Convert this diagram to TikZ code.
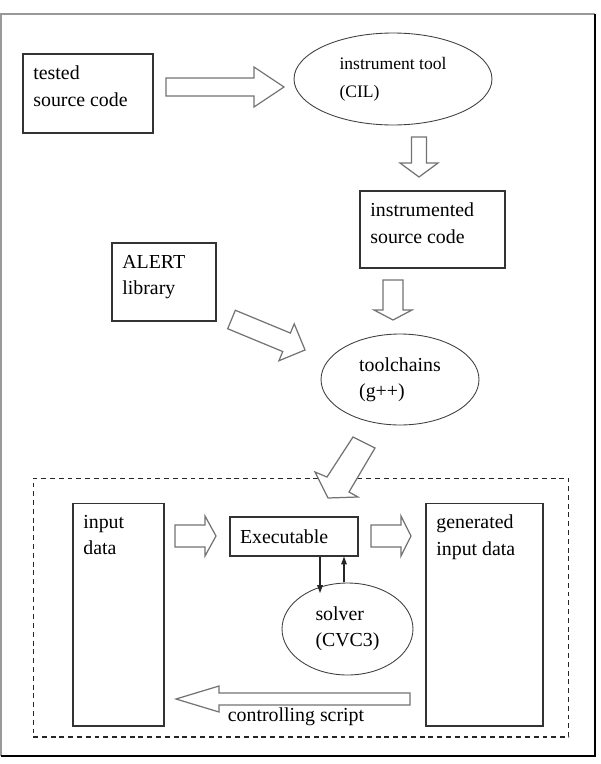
\documentclass[tikz,border=0pt]{standalone}
\usepackage{fontspec}
\setmainfont{Liberation Serif}
\usetikzlibrary{arrows.meta,shapes.geometric}

\tikzset{
  box/.style={draw=black!80, line width=0.6pt, inner sep=0pt},
  boxtext/.style={anchor=north west, align=left, inner xsep=6pt, inner ysep=7pt},
  blob/.style={draw=black!75, line width=0.5pt, ellipse, inner sep=0pt, align=left},
  fat/.style={draw=black!55, fill=white, line width=0.7pt, line join=miter},
  link/.style={-{Triangle[length=4.5pt,width=3.2pt]}, draw=black!85, line width=0.6pt},
}
% block arrow: tail, angle, length, half shaft, half head, head length
\newcommand{\fatarrow}[6]{%
  \draw[fat, shift={(#1)}, rotate=#2]
    (0,-#4) -- ({#3-#6},-#4) -- ({#3-#6},-#5) -- (#3,0)
    -- ({#3-#6},#5) -- ({#3-#6},#4) -- (0,#4) -- cycle;}

\begin{document}
\begin{tikzpicture}[x=0.02cm, y=-0.02cm, font=\fontsize{11.3}{15}\selectfont]
  \useasboundingbox (0,0) rectangle (600,764);
  % frame
  \draw[gray!80, line width=0.6pt] (1,756) -- (1,14) -- (595,14);
  \draw[black, line width=1.2pt] (595,14) -- (595,756) -- (1,756);

  % upper part
  \node[box, minimum width=2.6cm, minimum height=1.58cm] (tested) at (88,93.5) {};
  \node[boxtext] (testedtxt) at (tested.north west) {tested\\source code};
  \node[blob, minimum width=3.96cm, minimum height=1.84cm,
        font=\fontsize{10}{16}\selectfont] (instr) at (393,79) {instrument tool\\(CIL)};
  \node[box, minimum width=2.9cm, minimum height=1.54cm] (instrd) at (432.5,229.5) {};
  \node[boxtext] (instrdtxt) at (instrd.north west) {instrumented\\source code};
  \node[box, minimum width=2.08cm, minimum height=1.56cm] (alert) at (164,282) {};
  \node[boxtext] (alerttxt) at (alert.north west) {ALERT\\library};
  \node[blob, minimum width=3.16cm, minimum height=1.82cm] (tools) at (400,379.5) {toolchains\\(g++)};

  \fatarrow{166,87}{0}{118}{9}{20}{30}
  \fatarrow{419,137}{-90}{40}{7.5}{19}{14}
  \fatarrow{393,280}{-90}{40}{10}{19}{10}
  \fatarrow{231.5,319.5}{-22.5}{79.6}{10}{20}{20}

  % test loop
  \node[draw=black!85, dashed, dash pattern=on 2.8pt off 2.2pt, line width=0.6pt,
        minimum width=10.72cm, minimum height=5.18cm, inner sep=0pt] (loop) at (301,607.5) {};
  \draw[fat] (353,437) -- (327,477) -- (315,472) -- (328,498) -- (358,497)
    -- (349,492) -- (375,448) -- cycle;

  \node[box, minimum width=1.82cm, minimum height=4.46cm] (inp) at (118.5,614.5) {};
  \node[boxtext] (inptxt) at (inp.north west) {input\\data};
  \node[box, minimum width=2.34cm, minimum height=4.46cm] (gen) at (484.5,614.5) {};
  \node[boxtext] (gentxt) at (gen.north west) {generated\\input data};
  \node[box, minimum width=2.56cm, minimum height=0.78cm, text width=2.16cm,
        inner xsep=0.2cm, align=left] (exe) at (294,536.5) {Executable};
  \node[blob, minimum width=2.62cm, minimum height=1.84cm] (solver) at (347.5,629) {solver\\(CVC3)};

  \fatarrow{175,536}{0}{41}{11}{20}{11}
  \fatarrow{371,536}{0}{40}{11}{20}{10}
  \fatarrow{410,699}{180}{234}{6}{13}{43}
  \node (ctrl) at (296,717) {controlling script};

  \coordinate (dn) at (320,593);
  \draw[link] (exe.south -| dn) -- (dn);
  \coordinate (up) at (344,582);
  \draw[link] (up) -- (up |- exe.south);
\end{tikzpicture}
\end{document}
